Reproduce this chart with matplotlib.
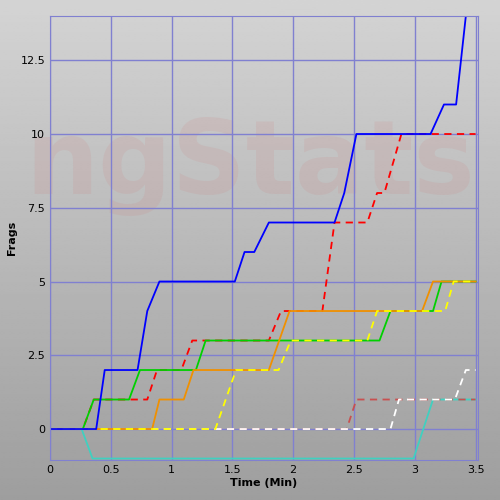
import matplotlib
matplotlib.use("Agg")
import matplotlib.pyplot as plt
import numpy as np

blue_t = [0, 0.38, 0.45, 0.72, 0.80, 0.90, 1.52, 1.60, 1.68, 1.80, 2.34, 2.42, 2.52, 3.13, 3.24, 3.34, 3.42, 3.5]
blue_v = [0, 0, 2, 2, 4, 5, 5, 6, 6, 7, 7, 8, 10, 10, 11, 11, 14, 14]
red_t = [0, 0.27, 0.36, 0.80, 0.88, 1.08, 1.17, 1.80, 1.90, 2.24, 2.34, 2.61, 2.69, 2.75, 2.89, 3.5]
red_v = [0, 0, 1, 1, 2, 2, 3, 3, 4, 4, 7, 7, 8, 8, 10, 10]
green_t = [0, 0.27, 0.36, 0.65, 0.74, 1.20, 1.28, 2.71, 2.80, 3.15, 3.22, 3.5]
green_v = [0, 0, 1, 1, 2, 2, 3, 3, 4, 4, 5, 5]
orange_t = [0, 0.84, 0.90, 1.10, 1.18, 1.80, 1.97, 3.06, 3.15, 3.5]
orange_v = [0, 0, 1, 1, 2, 2, 4, 4, 5, 5]
yellow_t = [0, 1.36, 1.53, 1.88, 1.98, 2.61, 2.69, 3.25, 3.32, 3.5]
yellow_v = [0, 0, 2, 2, 3, 3, 4, 4, 5, 5]
brown_t = [0, 2.44, 2.52, 3.5]
brown_v = [0, 0, 1, 1]
white_t = [0, 2.80, 2.87, 3.33, 3.42, 3.5]
white_v = [0, 0, 1, 1, 2, 2]
cyan_t = [0, 0.26, 0.35, 2.99, 3.15, 3.5]
cyan_v = [0, 0, -1, -1, 1, 1]

fig = plt.figure(figsize=(5, 5), dpi=100)
bg = fig.add_axes([0, 0, 1, 1], zorder=0)
grad = np.linspace(0.83, 0.62, 256).reshape(-1, 1)
bg.imshow(grad, cmap='gray', vmin=0, vmax=1, aspect='auto', extent=[0, 1, 0, 1], interpolation='bilinear')
bg.axis('off')
bg.text(0.5, 0.67, 'ngStats', fontsize=74, fontweight='bold', color='#d08080', alpha=0.15,
        ha='center', va='center', transform=bg.transAxes)

ax = fig.add_axes([0.1, 0.08, 0.856, 0.888], zorder=1)
ax.patch.set_alpha(0)
ax.set_xlim(0, 3.52)
ax.set_ylim(-1.05, 14)
ax.set_xticks([0, 0.5, 1, 1.5, 2, 2.5, 3, 3.5])
ax.set_xticklabels(['0', '0.5', '1', '1.5', '2', '2.5', '3', '3.5'])
ax.set_yticks([0, 2.5, 5, 7.5, 10, 12.5])
ax.set_yticklabels(['0', '2.5', '5', '7.5', '10', '12.5'])
ax.grid(True, color='#8080d0', lw=1.0, alpha=1)
ax.set_axisbelow(True)
for s in ax.spines.values():
    s.set_color('#8080d0')
ax.tick_params(length=0, labelsize=8, colors='black')
ax.set_xlabel('Time (Min)', fontsize=8, fontweight='bold', labelpad=2)
ax.set_ylabel('Frags', fontsize=8, fontweight='bold')
ax.yaxis.set_label_coords(-0.077, 0.5)

ax.plot(cyan_t, cyan_v, color='#40d0c0', lw=1.3)
ax.plot(brown_t, brown_v, color='#c85050', lw=1.3, ls=(0, (4, 3)))
ax.plot(white_t, white_v, color='white', lw=1.3, ls=(0, (4, 3)))
ax.plot(red_t, red_v, color='red', lw=1.3, ls=(0, (4, 3)))
ax.plot(green_t, green_v, color='#00d000', lw=1.3)
ax.plot(orange_t, orange_v, color='#f09000', lw=1.3)
ax.plot(yellow_t, yellow_v, color='yellow', lw=1.3, ls=(0, (4, 3)))
ax.plot(blue_t, blue_v, color='blue', lw=1.3)

fig.savefig('out.png', dpi=100)
